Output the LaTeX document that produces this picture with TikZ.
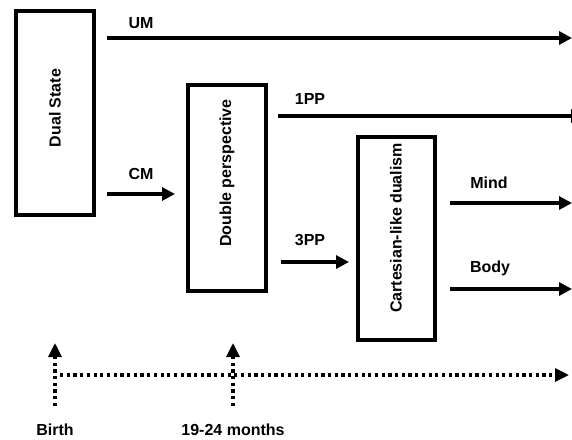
\documentclass[tikz,border=0pt]{standalone}
\usepackage{fontspec}
\setmainfont{Liberation Sans}
\usetikzlibrary{arrows.meta}

\begin{document}
\begin{tikzpicture}[x=1pt, y=-1pt,
  stage/.style={draw, line width=4pt, inner sep=0pt},
  lbl/.style={font=\fontsize{16}{19}\selectfont\bfseries, inner sep=0pt},
  flow/.style={line width=3.1pt, -{Triangle[length=13pt, width=13pt]}},
  timeline/.style={line width=3.2pt, dash pattern=on 3.2pt off 3.5pt, -{Triangle[length=14pt, width=13pt]}}]
  \useasboundingbox (0,0) rectangle (572,439);
  \clip (0,0) rectangle (572,439);

  % draw the stages
  \node[stage, minimum width=78pt, minimum height=204pt] (dual) at (55,113) {};
  \node[stage, minimum width=78pt, minimum height=206pt] (double) at (226.5,187.5) {};
  \node[stage, minimum width=77pt, minimum height=203pt] (cartesian) at (396,238) {};

  % the texts in the stages
  \node[lbl, rotate=90] (dual-txt) at (55,108) {Dual State};
  \node[lbl, rotate=90] (double-txt) at (227,173) {Double perspective};
  \node[lbl, rotate=90] (cartesian-txt) at (396,228) {Cartesian-like dualism};

  % the ends of the arrows (here I just create coordinates to use them later on
  % to draw the arrows
  \coordinate (um-s) at (107,38);   \coordinate (um-e) at (572,38);
  \coordinate (cm-s) at (107,194);  \coordinate (cm-e) at (175,194);
  \coordinate (pp1-s) at (278,116); \coordinate (pp1-e) at (584,116);
  \coordinate (pp3-s) at (281,262); \coordinate (pp3-e) at (349,262);
  \coordinate (mind-s) at (450,203); \coordinate (mind-e) at (572,203);
  \coordinate (body-s) at (450,289); \coordinate (body-e) at (572,289);
  \coordinate (birth-s) at (55,406); \coordinate (birth-e) at (55,343);
  \coordinate (month-s) at (233,406); \coordinate (month-e) at (233,343);
  \coordinate (time-s) at (60,375); \coordinate (time-e) at (569,375);

  % the labels of the arrows
  \node[lbl] (um) at (141,23) {UM};
  \node[lbl] (cm) at (141,174) {CM};
  \node[lbl] (pp1) at (310,99) {1PP};
  \node[lbl] (pp3) at (310,240) {3PP};
  \node[lbl] (mind) at (489,183) {Mind};
  \node[lbl] (body) at (490,268) {Body};
  \node[lbl] (birth) at (55,430) {Birth};
  \node[lbl] (month) at (233,430) {19-24 months};

  % draw the arrows
  \draw[flow] (um-s) -- (um-e);
  \draw[flow] (cm-s) -- (cm-e);
  \draw[flow] (pp1-s) -- (pp1-e);
  \draw[flow] (pp3-s) -- (pp3-e);
  \draw[flow] (mind-s) -- (mind-e);
  \draw[flow] (body-s) -- (body-e);

  % draw the time line
  \draw[timeline] (birth-s) -- (birth-e);
  \draw[timeline] (month-s) -- (month-e);
  \draw[timeline] (time-s) -- (time-e);
\end{tikzpicture}
\end{document}
